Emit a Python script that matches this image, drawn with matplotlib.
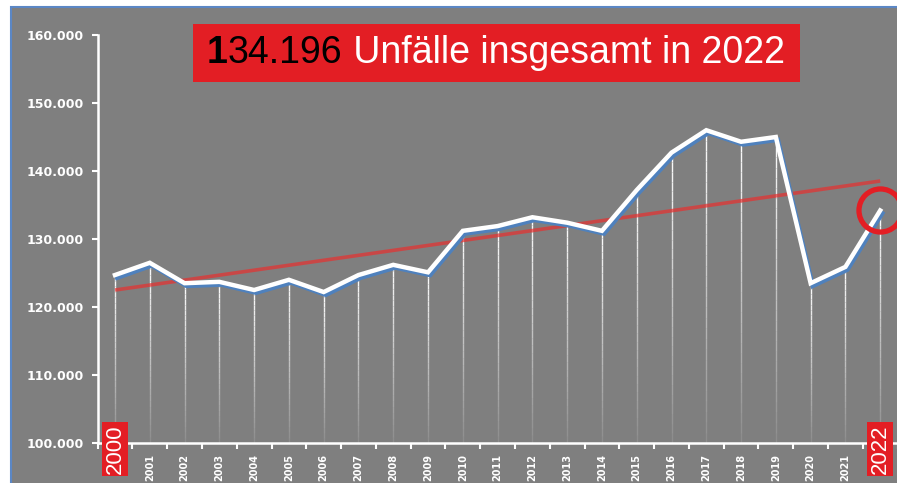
#!/usr/bin/env python3
import matplotlib
matplotlib.use('Agg')
import matplotlib.pyplot as plt
import matplotlib.patheffects as pe
from matplotlib.patches import Rectangle
from matplotlib.collections import LineCollection
from matplotlib.ticker import FuncFormatter
import numpy as np

# Unfaelle pro Jahr
years = list(range(2000, 2023))
accidents = [124700, 126500, 123500, 123700, 122500, 124000, 122200, 124700,
             126200, 125100, 131200, 131900, 133200, 132400, 131200, 137200,
             142700, 146000, 144300, 145000, 123500, 125900, 134196]
highlight_years = [2000, 2022]
title_parts = [('1', 'black', 'bold'), ('34.196', 'black', 'normal'),
               (' Unfälle insgesamt in 2022', 'white', 'normal')]

BG = '#7f7f7f'
RED = '#e31e24'
BLUE = '#4f81bd'

plt.rcParams['font.family'] = ['Liberation Sans', 'DejaVu Sans']

fig = plt.figure(figsize=(8.97, 4.83), dpi=100)
fig.patch.set_facecolor('white')
# grey slide panel with blue border (left/top visible)
fig.patches.append(Rectangle((11 / 897, -0.05), 1.0, 1 - 7 / 483 + 0.05,
                             transform=fig.transFigure, facecolor=BG,
                             edgecolor='#5b87c5', linewidth=1.5, zorder=-10))

ax = fig.add_axes([97.6 / 897, 40 / 483, 800 / 897, 408 / 483])
ax.set_facecolor('none')
ax.set_zorder(1)

x = np.arange(len(years))
y = np.array(accidents)

# fading drop lines from each point to the axis
segs, cols = [], []
n = 30
for xi, yi in zip(x, y):
    edges = np.linspace(yi, 100000, n + 1)
    for k in range(n):
        segs.append([(xi, edges[k]), (xi, edges[k + 1])])
        cols.append((1, 1, 1, 0.9 * (1 - k / n) + 0.08))
ax.add_collection(LineCollection(segs, colors=cols, linewidths=1.0, zorder=2))

# trend line
coef = np.polyfit(x, y, 1)
ax.plot(x, np.polyval(coef, x), color='#e8302f', alpha=0.7, lw=2.6,
        solid_capstyle='butt', zorder=4)

# main line with blue shadow
ax.plot(x, y, color='white', lw=3.2, zorder=5, solid_joinstyle='miter',
        path_effects=[pe.SimpleLineShadow(offset=(1.5, -2), shadow_color=BLUE, alpha=1),
                      pe.Normal()])

# highlight circle at 2022
ax.plot(x[-1], y[-1], 'o', ms=31, mfc='none', mec=RED, mew=3.8, zorder=6,
        clip_on=False)

ax.set_xlim(-0.5, len(years) - 0.5)
ax.set_ylim(100000, 160000)
ax.set_yticks(np.arange(100000, 160001, 10000))
ax.yaxis.set_major_formatter(FuncFormatter(lambda v, p: f'{int(v):,}'.replace(',', '.')))

ax.set_xticks(x)
ax.set_xticklabels(['' if yr in highlight_years else str(yr) for yr in years],
                   rotation=90, fontsize=7, fontweight='bold', color='white',
                   family='DejaVu Sans')
ax.set_xticks(np.arange(-0.5, len(years), 1), minor=True)
ax.tick_params(axis='x', which='major', length=0, pad=8)
ax.tick_params(axis='x', which='minor', length=4, width=1.5, color='white', direction='out')
ax.tick_params(axis='y', length=4, width=1.5, color='white', labelsize=9,
               labelcolor='white', pad=6)
for lbl in ax.get_yticklabels():
    lbl.set_fontweight('bold')
    lbl.set_family('DejaVu Sans')

for s in ['top', 'right']:
    ax.spines[s].set_visible(False)
for s in ['left', 'bottom']:
    ax.spines[s].set_color('white')
    ax.spines[s].set_linewidth(1.8)

# red year boxes overlapping the axis
for yr in highlight_years:
    i = years.index(yr)
    ax.text(x[i], 0.046, str(yr), transform=ax.get_xaxis_transform(),
            rotation=90, ha='center', va='top', fontsize=16, color='white',
            bbox=dict(boxstyle='square,pad=0.12', fc=RED, ec='none'),
            zorder=7, clip_on=False)

# title box
fig.patches.append(Rectangle((193 / 897, 1 - 82 / 483), 607 / 897, 58 / 483,
                             transform=fig.transFigure, facecolor=RED,
                             edgecolor='none', zorder=3))
fig.canvas.draw()
xpos = 207
for txt, col, wt in title_parts:
    t = fig.text(xpos / 897, 1 - 53 / 483, txt, fontsize=27, color=col,
                 fontweight=wt, va='center', ha='left', zorder=4)
    xpos = t.get_window_extent(renderer=fig.canvas.get_renderer()).x1

fig.savefig('out.png', dpi=100, facecolor=fig.get_facecolor())
